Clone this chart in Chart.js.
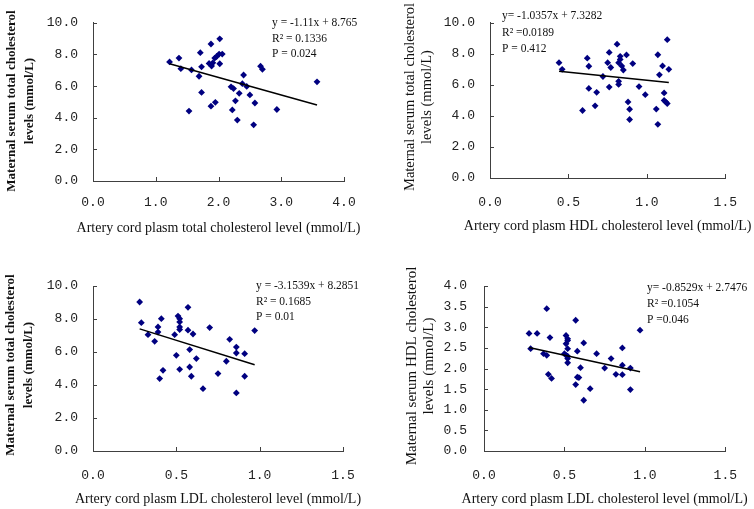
<!DOCTYPE html>
<html>
<head>
<meta charset="utf-8">
<script src="https://cdn.jsdelivr.net/npm/chart.js@4.4.1/dist/chart.umd.min.js"></script>
<style>
  html, body { margin: 0; padding: 0; background: #fff; }
  .page { position: relative; width: 754px; height: 509px; overflow: hidden; }
  .cell { position: absolute; }
</style>
</head>
<body>
<div class="page">
  <div class="cell" style="left:0;top:0;width:377px;height:254px"><canvas id="c1"></canvas></div>
  <div class="cell" style="left:377px;top:0;width:377px;height:254px"><canvas id="c2"></canvas></div>
  <div class="cell" style="left:0;top:254px;width:377px;height:255px"><canvas id="c3"></canvas></div>
  <div class="cell" style="left:377px;top:254px;width:377px;height:255px"><canvas id="c4"></canvas></div>
</div>
<script>
// Данные
// 1: cord TC vs maternal TC
const tcCord = [1.22, 1.37, 1.40, 1.57, 1.69, 1.73, 1.71, 1.73, 1.53, 1.88, 2.02,
  1.85, 1.89, 1.91, 1.94, 1.97, 2.01, 2.06, 2.02,
  1.88, 1.95, 2.20, 2.24, 2.27, 2.22, 2.30, 2.33, 2.40, 2.38, 2.45, 2.50, 2.58,
  2.56, 2.67, 2.70, 2.93, 3.57];
const tcMother = [7.53, 7.77, 7.10, 7.02, 6.62, 7.22, 8.11, 5.60, 4.42, 8.66, 8.99,
  7.43, 7.27, 7.47, 7.77, 7.87, 8.02, 8.02, 7.41,
  4.73, 4.97, 5.95, 5.84, 5.07, 4.49, 3.85, 5.54, 6.70, 6.15, 5.98, 5.44, 4.93,
  3.55, 7.26, 7.06, 4.52, 6.27];

// 2: cord HDL vs maternal TC
const hdlCord = [0.44, 0.46, 0.62, 0.63, 0.63, 0.68, 0.59, 0.67, 0.72, 0.76, 0.75,
  0.77, 0.76, 0.81, 0.83, 0.83, 0.82, 0.84, 0.85, 0.87, 0.91, 0.82, 0.82, 0.88,
  0.89, 0.89, 0.95, 0.99, 1.07, 1.10, 1.08, 1.14, 1.13, 1.11, 1.11, 1.12, 1.13,
  1.06, 1.07];
const hdlMother = [7.43, 7.00, 7.72, 7.20, 5.77, 5.52, 4.35, 4.65, 6.54, 8.09, 7.43,
  7.12, 5.86, 8.62, 7.84, 7.64, 7.43, 7.22, 6.96, 7.93, 7.37, 6.23, 6.03, 4.90,
  4.43, 3.77, 5.89, 5.37, 7.94, 7.22, 6.65, 7.00, 8.91, 5.48, 5.00, 4.90, 4.80,
  4.44, 3.46];

// 3: cord LDL vs maternal TC
const ldlCord = [0.28, 0.29, 0.33, 0.37, 0.39, 0.39, 0.41, 0.42, 0.40, 0.49, 0.50,
  0.51, 0.52, 0.52, 0.52, 0.52, 0.57, 0.57, 0.60, 0.58, 0.52, 0.58, 0.59, 0.62,
  0.66, 0.70, 0.75, 0.80, 0.82, 0.86, 0.86, 0.91, 0.91, 0.86, 0.97];
const ldlMother = [9.03, 7.78, 7.05, 6.65, 7.52, 7.21, 8.02, 4.89, 4.39, 7.05, 5.80,
  8.18, 8.02, 7.82, 7.52, 7.36, 8.71, 7.32, 7.09, 6.15, 4.95, 5.09, 4.53, 5.60,
  3.78, 7.48, 4.69, 5.44, 6.77, 6.30, 5.94, 5.90, 4.53, 3.52, 7.30];

// 4: cord LDL vs maternal HDL
const ldlCord2 = [0.39, 0.57, 0.28, 0.33, 0.41, 0.29, 0.37, 0.39, 0.40, 0.42, 0.51,
  0.52, 0.52, 0.51, 0.52, 0.50, 0.51, 0.52, 0.52, 0.52, 0.58, 0.62, 0.60, 0.58,
  0.59, 0.57, 0.66, 0.62, 0.70, 0.75, 0.79, 0.82, 0.86, 0.86, 0.86, 0.91, 0.91,
  0.97];
const hdlMother2 = [3.45, 3.17, 2.85, 2.85, 2.75, 2.48, 2.36, 2.32, 1.86, 1.76, 2.80,
  2.72, 2.68, 2.60, 2.48, 2.36, 2.32, 2.30, 2.24, 2.14, 2.42, 2.62, 2.02, 1.79,
  1.78, 1.61, 1.51, 1.23, 2.36, 2.01, 2.24, 1.86, 2.50, 2.08, 1.85, 2.01, 1.49,
  2.93];

// уравнения регрессии с картинки: [наклон, сдвиг]
const fit1 = [-1.11, 8.765];
const fit2 = [-1.0357, 7.3282];
const fit3 = [-3.1539, 8.2851];
const fit4 = [-0.8529, 2.7476];

const notes1 = ["y = -1.11x + 8.765", "R² = 0.1336", "P = 0.024"];
const notes2 = ["y= -1.0357x + 7.3282", "R² =0.0189", "P = 0.412"];
const notes3 = ["y = -3.1539x + 8.2851", "R² = 0.1685", "P = 0.01"];
const notes4 = ["y= -0.8529x + 2.7476", "R² =0.1054", "P =0.046"];

const yTitleTC = ["Maternal serum total cholesterol", "levels (mmol/L)"];
const yTitleHDL = ["Maternal serum HDL cholesterol", "levels (mmol/L)"];
const xTitleTC = "Artery cord plasm total cholesterol level (mmol/L)";
const xTitleHDL = "Artery cord plasm HDL cholesterol level (mmol/L)";
const xTitleLDL = "Artery cord plasm LDL cholesterol level (mmol/L)";

const AXIS = "#404040";
const DOT = "#000080";
const SERIF = "'Liberation Serif', 'Times New Roman', serif";
const MONO = "'Liberation Mono', 'DejaVu Sans Mono', monospace";

// подписи, штрихи внутрь
const paperPlugin = {
  id: "paper",
  afterDraw(chart, args, o) {
    const { ctx, chartArea: a } = chart;
    const x = chart.scales.x, y = chart.scales.y;
    ctx.save();

    ctx.strokeStyle = AXIS;
    ctx.lineWidth = 1;
    ctx.beginPath();
    x.ticks.forEach((t) => {
      const px = Math.round(x.getPixelForValue(t.value)) + 0.5;
      ctx.moveTo(px, a.bottom);
      ctx.lineTo(px, a.bottom - 4);
    });
    y.ticks.forEach((t) => {
      const py = Math.round(y.getPixelForValue(t.value)) + 0.5;
      ctx.moveTo(a.left, py);
      ctx.lineTo(a.left + 4, py);
    });
    ctx.stroke();

    ctx.fillStyle = "#111";
    ctx.textBaseline = "middle";

    // уравнение, R2, P
    ctx.font = "11.5px " + SERIF;
    ctx.textAlign = "left";
    o.notes.forEach((s, i) => {
      ctx.fillText(s, o.noteX, o.noteY + i * o.noteStep);
    });

    // подпись оси X
    ctx.textAlign = "center";
    ctx.font = "14px " + SERIF;
    ctx.fillText(o.xTitle, (a.left + a.right) / 2, o.xTitleY);

    // подпись оси Y (две строки)
    ctx.font = (o.yBold ? "bold " : "") + o.ySize + "px " + SERIF;
    o.yTitle.forEach((s, i) => {
      ctx.save();
      ctx.translate(o.yTitleX[i], o.yTitleMid);
      ctx.rotate(-Math.PI / 2);
      ctx.fillText(s, 0, 0);
      ctx.restore();
    });

    ctx.restore();
  },
};

function makePanel(id, xs, ys, fit, xr, yr, lay, text) {
  const pts = xs.map((v, i) => ({ x: v, y: ys[i] }));
  const x0 = Math.min(...xs), x1 = Math.max(...xs);
  const line = [
    { x: x0, y: fit[0] * x0 + fit[1] },
    { x: x1, y: fit[0] * x1 + fit[1] },
  ];

  return new Chart(document.getElementById(id), {
    type: "scatter",
    data: {
      datasets: [
        {
          data: pts,
          pointStyle: "rectRot",
          pointRadius: 3.4,
          backgroundColor: DOT,
          borderColor: DOT,
          borderWidth: 0,
          order: 2,
        },
        {
          type: "line",
          data: line,
          borderColor: "#000",
          borderWidth: 1.5,
          pointRadius: 0,
          fill: false,
          order: 1,
        },
      ],
    },
    options: {
      responsive: true,
      maintainAspectRatio: false,
      animation: false,
      events: [],
      layout: { padding: { top: lay.top, right: lay.right, left: 0, bottom: 0 } },
      plugins: {
        legend: { display: false },
        tooltip: { enabled: false },
        paper: text,
      },
      scales: {
        x: {
          type: "linear",
          min: xr[0],
          max: xr[1],
          grid: { display: false, drawTicks: false },
          border: { display: true, color: AXIS, width: 1 },
          ticks: {
            stepSize: xr[2],
            padding: lay.xPad,
            color: "#222",
            font: { family: MONO, size: 13 },
            callback: (v) => v.toFixed(1),
          },
          afterFit: (s) => { s.height = lay.bottom; },
        },
        y: {
          type: "linear",
          min: yr[0],
          max: yr[1],
          grid: { display: false, drawTicks: false },
          border: { display: true, color: AXIS, width: 1 },
          ticks: {
            stepSize: yr[2],
            padding: lay.yPad,
            color: "#222",
            font: { family: MONO, size: 13 },
            callback: (v) => v.toFixed(1),
          },
          afterFit: (s) => { s.width = lay.left; },
        },
      },
    },
    plugins: [paperPlugin],
  });
}

makePanel("c1", tcCord, tcMother, fit1, [0, 4, 1], [0, 10, 2],
  { left: 93, right: 33, top: 17, bottom: 73, xPad: 14, yPad: 15 },
  { notes: notes1, noteX: 272, noteY: 23, noteStep: 15.5,
    xTitle: xTitleTC, xTitleY: 228,
    yTitle: yTitleTC, yTitleX: [12, 30], yTitleMid: 101, yBold: true, ySize: 13 });

makePanel("c2", hdlCord, hdlMother, fit2, [0, 1.5, 0.5], [0, 10, 2],
  { left: 113, right: 22, top: 16, bottom: 76, xPad: 17, yPad: 15 },
  { notes: notes2, noteX: 125, noteY: 16, noteStep: 16.5,
    xTitle: xTitleHDL, xTitleY: 226,
    yTitle: yTitleTC, yTitleX: [33, 50], yTitleMid: 97, yBold: false, ySize: 14.5 });

makePanel("c3", ldlCord, ldlMother, fit3, [0, 1.5, 0.5], [0, 10, 2],
  { left: 93, right: 34, top: 32, bottom: 58, xPad: 17, yPad: 15 },
  { notes: notes3, noteX: 256, noteY: 32, noteStep: 15.5,
    xTitle: xTitleLDL, xTitleY: 245,
    yTitle: yTitleTC, yTitleX: [11, 29], yTitleMid: 111, yBold: true, ySize: 13 });

makePanel("c4", ldlCord2, hdlMother2, fit4, [0, 1.5, 0.5], [0, 4, 0.5],
  { left: 107, right: 22, top: 32, bottom: 58, xPad: 17, yPad: 17 },
  { notes: notes4, noteX: 270, noteY: 34, noteStep: 16,
    xTitle: xTitleLDL, xTitleY: 245,
    yTitle: yTitleHDL, yTitleX: [35, 52], yTitleMid: 112, yBold: false, ySize: 15 });
</script>
</body>
</html>
